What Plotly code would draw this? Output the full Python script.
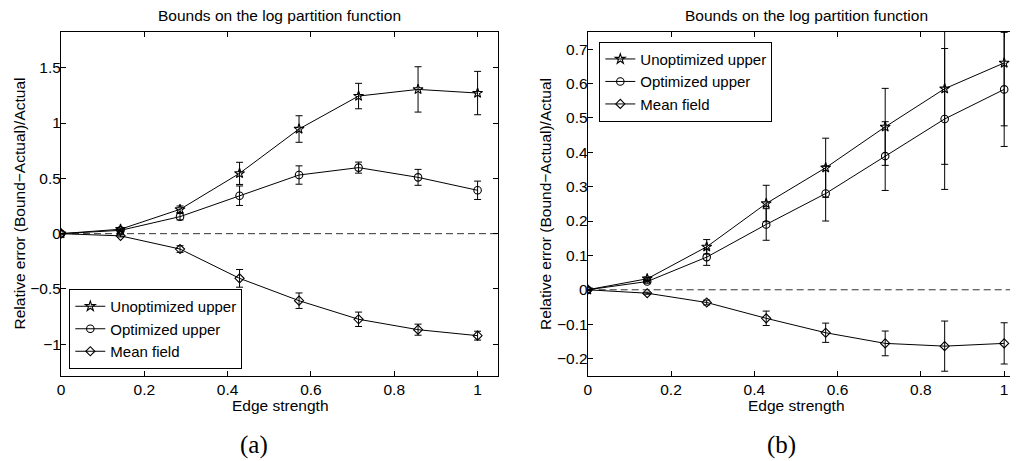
import plotly.graph_objects as go

W, H = 1018, 461
OFF = 8  # page body margin offset

def fx(p):  # page x pixel -> paper fraction
    return (p - OFF) / W

def fy(p):  # page y pixel -> paper fraction
    return 1 - (p - OFF) / H

# Edge strengths (shared x)
edge = [0, 0.1429, 0.2857, 0.4286, 0.5714, 0.7143, 0.8571, 1.0]

# Panel (a)
a_unopt = [0, 0.04, 0.22, 0.545, 0.946, 1.244, 1.304, 1.271]
a_unopt_err = [0, 0.01, 0.03, 0.10, 0.12, 0.115, 0.205, 0.196]
a_opt = [0, 0.03, 0.154, 0.343, 0.530, 0.597, 0.509, 0.392]
a_opt_err = [0, 0.01, 0.03, 0.088, 0.083, 0.05, 0.072, 0.083]
a_mf = [0, -0.02, -0.139, -0.404, -0.606, -0.774, -0.868, -0.922]
a_mf_err = [0, 0.01, 0.03, 0.08, 0.07, 0.065, 0.05, 0.04]

# Panel (b)
b_unopt = [0, 0.032, 0.125, 0.251, 0.355, 0.474, 0.585, 0.660]
b_unopt_err = [0, 0.005, 0.021, 0.053, 0.086, 0.112, 0.22, 0.183]
b_opt = [0, 0.024, 0.095, 0.190, 0.280, 0.389, 0.497, 0.583]
b_opt_err = [0, 0.005, 0.024, 0.046, 0.08, 0.10, 0.205, 0.166]
b_mf = [0, -0.01, -0.037, -0.083, -0.125, -0.156, -0.164, -0.156]
b_mf_err = [0, 0.003, 0.007, 0.021, 0.028, 0.036, 0.073, 0.06]

x_ticks = [0, 0.2, 0.4, 0.6, 0.8, 1]
x_ticktext = ["0", "0.2", "0.4", "0.6", "0.8", "1"]
ya_ticks = [-1, -0.5, 0, 0.5, 1, 1.5]
yb_ticks = [-0.2, -0.1, 0, 0.1, 0.2, 0.3, 0.4, 0.5, 0.6, 0.7]

names = ["Unoptimized upper", "Optimized upper", "Mean field"]
symbols = ["star-open", "circle-open", "diamond-open"]
sizes = [7.5, 7.5, 7]

FONT = "Liberation Sans, Arial, Helvetica, sans-serif"
FS = 15.5

fig = go.Figure()

def add_series(xa, ya, legend, ys, errs):
    for name, sym, sz, yv, ev in zip(names, symbols, sizes, ys, errs):
        fig.add_trace(go.Scatter(
            x=edge, y=yv, name=name, mode="lines+markers",
            xaxis=xa, yaxis=ya, legend=legend,
            line=dict(color="black", width=1),
            marker=dict(symbol=sym, size=sz, color="black",
                        line=dict(color="black", width=1.1)),
            error_y=dict(type="data", array=ev, visible=True,
                         color="black", thickness=1, width=3.5),
            cliponaxis=True,
        ))

add_series("x", "y", "legend", [a_unopt, a_opt, a_mf], [a_unopt_err, a_opt_err, a_mf_err])
add_series("x2", "y2", "legend2", [b_unopt, b_opt, b_mf], [b_unopt_err, b_opt_err, b_mf_err])

ydom = [fy(375.7), fy(32)]

axis_common = dict(
    showline=True, linecolor="black", linewidth=1,
    ticks="inside", ticklen=5, tickcolor="black", tickwidth=1,
    showgrid=False, zeroline=False,
    tickfont=dict(family=FONT, size=FS, color="black"),
    automargin=False,
)

fig.update_layout(
    width=W, height=H,
    margin=dict(l=0, r=0, t=0, b=0),
    paper_bgcolor="white", plot_bgcolor="white",
    font=dict(family=FONT, size=FS, color="black"),
    xaxis=dict(domain=[fx(61), fx(498)], range=[0, 1.049], anchor="y",
               tickvals=x_ticks, ticktext=x_ticktext, mirror="ticks", **axis_common),
    yaxis=dict(domain=ydom, range=[-1.284, 1.823], anchor="x",
               tickvals=ya_ticks, mirror="ticks", ticklabelstandoff=-4, **axis_common),
    xaxis2=dict(domain=[fx(587.7), fx(1025)], range=[0, 1.05], anchor="y2",
                tickvals=x_ticks, ticktext=x_ticktext, mirror="ticks", **axis_common),
    yaxis2=dict(domain=ydom, range=[-0.25, 0.75], anchor="x2",
                tickvals=yb_ticks, mirror="ticks", ticklabelstandoff=-4, **axis_common),
    legend=dict(x=fx(69.3), y=fy(369), xanchor="left", yanchor="bottom",
                bgcolor="white", bordercolor="black", borderwidth=1,
                font=dict(family=FONT, size=15, color="black"), tracegroupgap=0),
    legend2=dict(x=fx(599.3), y=fy(41.7), xanchor="left", yanchor="top",
                 bgcolor="white", bordercolor="black", borderwidth=1,
                 font=dict(family=FONT, size=15, color="black"), tracegroupgap=0),
    showlegend=True,
)

# dashed zero reference lines
for xr, yr in [("x", "y"), ("x2", "y2")]:
    fig.add_shape(type="line", xref=f"{xr} domain", yref=yr, x0=0, x1=1, y0=0, y1=0,
                  line=dict(color="#333333", width=1, dash="7px,4px"), layer="below")

title = "Bounds on the log partition function"
ann = [
    dict(text=title, x=279.5, y=15.5, size=FS, angle=0, family=FONT),
    dict(text=title, x=806.5, y=15.5, size=FS, angle=0, family=FONT),
    dict(text="Edge strength", x=280, y=405, size=FS, angle=0, family=FONT),
    dict(text="Edge strength", x=796, y=405, size=FS, angle=0, family=FONT),
    dict(text="Relative error (Bound\u2212Actual)/Actual", x=18.5, y=204, size=FS, angle=-90, family=FONT),
    dict(text="Relative error (Bound\u2212Actual)/Actual", x=545, y=204, size=FS, angle=-90, family=FONT),
    dict(text="(a)", x=253.5, y=445, size=25, angle=0, family="Liberation Serif, DejaVu Serif, serif"),
    dict(text="(b)", x=781, y=445, size=25, angle=0, family="Liberation Serif, DejaVu Serif, serif"),
]
for a in ann:
    fig.add_annotation(text=a["text"], x=fx(a["x"]), y=fy(a["y"]), xref="paper", yref="paper",
                       xanchor="center", yanchor="middle", showarrow=False,
                       textangle=a["angle"], font=dict(family=a["family"], size=a["size"], color="black"))

fig.write_html("out.html")
